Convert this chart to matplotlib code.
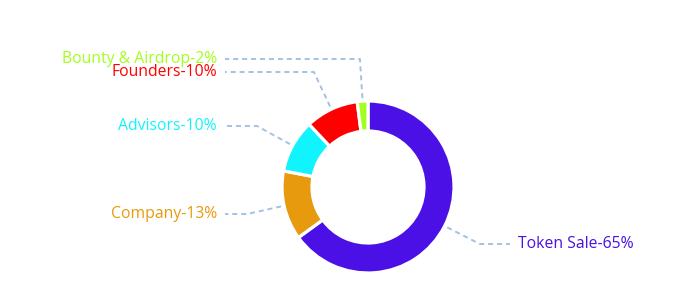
import numpy as np
import matplotlib
matplotlib.use("Agg")
import matplotlib.pyplot as plt

# allocation data, clockwise from 12 o'clock
labels = ["Token Sale", "Company", "Advisors", "Founders", "Bounty & Airdrop"]
shares = [65, 13, 10, 10, 2]
colors = ["#4A10E6", "#E89A0E", "#12F4FD", "#FF0000", "#A2FF1E"]

# label placement (pixel rows of the text centres, side of chart)
label_rows = [244, 214, 126, 72, 59]
label_side = ["right", "left", "left", "left", "left"]

W, H = 677, 301
fig = plt.figure(figsize=(W / 100, H / 100), dpi=100)
ax = fig.add_axes([0, 0, 1, 1])

cx, cy = 368, H - 187
r_out, r_in = 86, 56

ax.pie(shares, colors=colors, startangle=90, counterclock=False,
       center=(cx, cy), radius=r_out, frame=True,
       wedgeprops=dict(width=r_out - r_in, edgecolor="white", linewidth=2.3))
ax.set_xlim(0, W)
ax.set_ylim(0, H)
ax.set_aspect("equal")
ax.axis("off")

leader = "#A3C2E2"
total = float(sum(shares))
cum = 0.0
for lab, val, col, row, side in zip(labels, shares, colors, label_rows, label_side):
    mid = 90 - 360 * (cum + val / 2) / total
    cum += val
    a = np.deg2rad(mid)
    sx, sy = cx + 89 * np.cos(a), cy + 89 * np.sin(a)
    ly = H - row
    # knee: where the radial ray reaches the label's height
    kx = cx + (ly - cy) * np.cos(a) / np.sin(a)
    if side == "right":
        ex, tx, ha = 510, 518, "left"
    else:
        ex, tx, ha = 225, 217, "right"
    ax.plot([sx, kx, ex], [sy, ly, ly], color=leader, lw=1.4,
            linestyle=(0, (2.6, 2.0)), solid_capstyle="butt")
    ax.text(tx, ly, f"{lab}-{val}%", color=col, ha=ha, va="center",
            fontsize=11.3, family=["Open Sans", "DejaVu Sans"])

fig.savefig("out.png", dpi=100)
